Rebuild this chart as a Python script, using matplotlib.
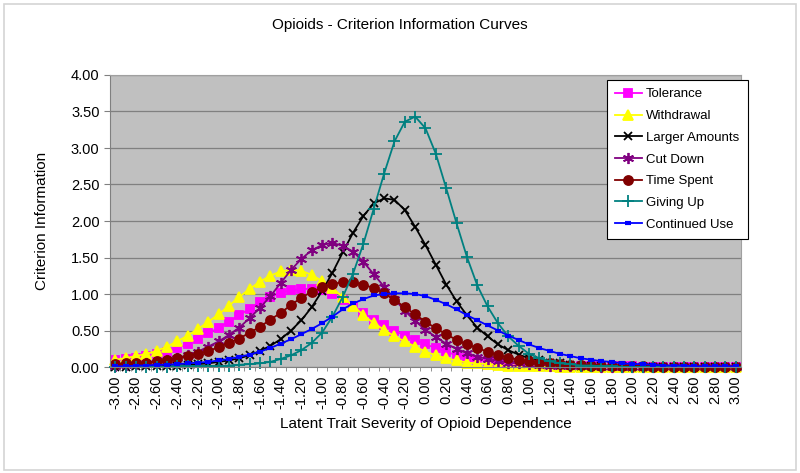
import numpy as np
import matplotlib
matplotlib.use('Agg')
import matplotlib.pyplot as plt
from matplotlib.patches import Rectangle

# latent trait grid (-3.0 .. 3.0 step 0.1)
theta = np.round(np.linspace(-3.0, 3.0, 61), 1)

tolerance = [0.09, 0.11, 0.13, 0.15, 0.18, 0.21, 0.26, 0.32, 0.39, 0.46,
             0.54, 0.62, 0.71, 0.80, 0.89, 0.96, 1.02, 1.05, 1.07, 1.07,
             1.05, 1.00, 0.92, 0.83, 0.74, 0.65, 0.57, 0.50, 0.43, 0.37,
             0.31, 0.26, 0.21, 0.16, 0.13, 0.10, 0.08, 0.06, 0.05, 0.04,
             0.03, 0.03, 0.02, 0.02, 0.01, 0.01, 0.01, 0.01, 0.01, 0.01,
             0.01, 0.00, 0.00, 0.00, 0.00, 0.00, 0.00, 0.00, 0.00, 0.00, 0.00]
withdrawal = [0.10, 0.12, 0.15, 0.18, 0.22, 0.28, 0.35, 0.43, 0.52, 0.62,
              0.72, 0.84, 0.96, 1.07, 1.17, 1.25, 1.31, 1.33, 1.32, 1.26,
              1.18, 1.08, 0.96, 0.84, 0.71, 0.60, 0.51, 0.42, 0.35, 0.28,
              0.21, 0.16, 0.12, 0.09, 0.06, 0.05, 0.04, 0.03, 0.02, 0.02,
              0.01, 0.01, 0.01, 0.00, 0.00, 0.00, 0.00, 0.00, 0.00, 0.00,
              0.00, 0.00, 0.00, 0.00, 0.00, 0.00, 0.00, 0.00, 0.00, 0.00, 0.00]
larger_amounts = [0.00, 0.00, 0.01, 0.01, 0.01, 0.02, 0.02, 0.03, 0.04, 0.05,
                  0.07, 0.09, 0.12, 0.16, 0.22, 0.29, 0.38, 0.50, 0.64, 0.82,
                  1.04, 1.29, 1.57, 1.84, 2.07, 2.24, 2.31, 2.29, 2.15, 1.92,
                  1.67, 1.40, 1.13, 0.90, 0.71, 0.54, 0.42, 0.31, 0.23, 0.17,
                  0.12, 0.09, 0.06, 0.05, 0.03, 0.02, 0.02, 0.01, 0.01, 0.01,
                  0.00, 0.00, 0.00, 0.00, 0.00, 0.00, 0.00, 0.00, 0.00, 0.00, 0.00]
cut_down = [0.02, 0.03, 0.04, 0.05, 0.07, 0.09, 0.12, 0.16, 0.21, 0.28,
            0.35, 0.44, 0.54, 0.67, 0.81, 0.97, 1.15, 1.33, 1.48, 1.60,
            1.67, 1.70, 1.66, 1.58, 1.44, 1.27, 1.10, 0.93, 0.77, 0.63,
            0.51, 0.41, 0.32, 0.25, 0.19, 0.14, 0.11, 0.08, 0.06, 0.05,
            0.04, 0.03, 0.02, 0.02, 0.01, 0.01, 0.01, 0.00, 0.00, 0.00,
            0.00, 0.00, 0.00, 0.00, 0.00, 0.00, 0.00, 0.00, 0.00, 0.00, 0.00]
time_spent = [0.04, 0.05, 0.05, 0.06, 0.08, 0.10, 0.12, 0.15, 0.18, 0.22,
              0.27, 0.33, 0.39, 0.47, 0.55, 0.65, 0.74, 0.85, 0.95, 1.03,
              1.09, 1.14, 1.16, 1.16, 1.13, 1.08, 1.01, 0.92, 0.82, 0.72,
              0.62, 0.53, 0.45, 0.37, 0.31, 0.26, 0.21, 0.16, 0.13, 0.10,
              0.08, 0.06, 0.05, 0.04, 0.03, 0.03, 0.02, 0.02, 0.01, 0.01,
              0.01, 0.01, 0.00, 0.00, 0.00, 0.00, 0.00, 0.00, 0.00, 0.00, 0.00]
giving_up = [0.00, 0.00, 0.00, 0.00, 0.00, 0.00, 0.01, 0.01, 0.01, 0.01,
             0.01, 0.02, 0.03, 0.04, 0.05, 0.07, 0.11, 0.16, 0.23, 0.33,
             0.47, 0.69, 0.96, 1.28, 1.69, 2.17, 2.65, 3.09, 3.36, 3.43,
             3.27, 2.92, 2.45, 1.97, 1.51, 1.12, 0.83, 0.60, 0.42, 0.29,
             0.18, 0.12, 0.08, 0.05, 0.04, 0.02, 0.02, 0.01, 0.01, 0.00,
             0.00, 0.00, 0.00, 0.00, 0.00, 0.00, 0.00, 0.00, 0.00, 0.00, 0.00]
continued_use = [0.01, 0.01, 0.02, 0.02, 0.03, 0.03, 0.04, 0.05, 0.06, 0.07,
                 0.09, 0.11, 0.14, 0.17, 0.21, 0.26, 0.32, 0.38, 0.45, 0.52,
                 0.60, 0.69, 0.79, 0.87, 0.93, 0.98, 1.00, 1.01, 1.01, 1.00,
                 0.97, 0.92, 0.86, 0.79, 0.71, 0.64, 0.57, 0.50, 0.43, 0.37,
                 0.31, 0.26, 0.22, 0.18, 0.15, 0.12, 0.10, 0.08, 0.07, 0.05,
                 0.04, 0.04, 0.03, 0.02, 0.02, 0.02, 0.01, 0.01, 0.01, 0.01, 0.01]

series = [
    ('Tolerance', tolerance, '#FF00FF', 's', 6, 1.3),
    ('Withdrawal', withdrawal, '#FFFF00', '^', 7, 1.3),
    ('Larger Amounts', larger_amounts, '#000000', 'x', 6, 1.3),
    ('Cut Down', cut_down, '#800080', (6, 2, 0), 8, 1.3),
    ('Time Spent', time_spent, '#800000', 'o', 6.5, 1.3),
    ('Giving Up', giving_up, '#008080', '+', 8, 1.3),
    ('Continued Use', continued_use, '#0000FF', '_', 4.5, 3.0),
]


def main():
    plt.rcParams['font.family'] = ['Liberation Sans', 'DejaVu Sans']
    fig = plt.figure(figsize=(8, 4.73), dpi=100)
    fig.patches.append(Rectangle((0.005, 0.006), 0.99, 0.986, transform=fig.transFigure,
                                 fill=False, edgecolor='#d4d4d4', lw=1.2))
    ax = fig.add_axes([110 / 800, 1 - 367 / 473, 631 / 800, 292 / 473])
    ax.set_facecolor('#C0C0C0')

    for name, vals, color, marker, ms, mew in series:
        ax.plot(theta, vals, color=color, marker=marker, ms=ms, lw=1.3,
                mfc=color, mec=color, mew=mew, label=name, clip_on=False)

    ax.set_xlim(-3.05, 3.05)
    ax.set_ylim(0, 4)
    ax.set_yticks(np.arange(0, 4.01, 0.5))
    ax.set_yticklabels(['%.2f' % v for v in np.arange(0, 4.01, 0.5)], fontsize=10.5)
    xt = np.round(np.arange(-3.0, 3.01, 0.2), 1)
    ax.set_xticks(xt)
    ax.set_xticklabels(['%.2f' % v for v in xt], rotation=90, fontsize=10.5)
    ax.set_xticks(np.arange(-3.05, 3.06, 0.1), minor=True)
    ax.tick_params(axis='x', which='major', length=0, pad=6)
    ax.tick_params(axis='x', which='minor', length=3, color='#808080')
    ax.tick_params(axis='y', length=4, color='#808080')
    ax.yaxis.grid(True, color='#808080', lw=0.9)
    ax.set_axisbelow(True)
    for s in ['top', 'right']:
        ax.spines[s].set_color('#a0a0a0')
    for s in ['left', 'bottom']:
        ax.spines[s].set_color('#808080')

    ax.set_xlabel('Latent Trait Severity of Opioid Dependence', fontsize=11, labelpad=6)
    ax.set_ylabel('Criterion Information', fontsize=11, labelpad=16)
    fig.text(0.5, 1 - 25 / 473, 'Opioids - Criterion Information Curves',
             ha='center', va='center', fontsize=11)

    leg = ax.legend(loc='upper left', bbox_to_anchor=(607 / 800, 1 - 80 / 473),
                    bbox_transform=fig.transFigure, fontsize=9.5, numpoints=1,
                    handlelength=2.0, handletextpad=0.35, labelspacing=0.72,
                    borderpad=0.62, borderaxespad=0, fancybox=False,
                    framealpha=1, edgecolor='#000000')
    leg.get_frame().set_linewidth(0.8)

    fig.savefig('out.png', dpi=100)


if __name__ == '__main__':
    main()
